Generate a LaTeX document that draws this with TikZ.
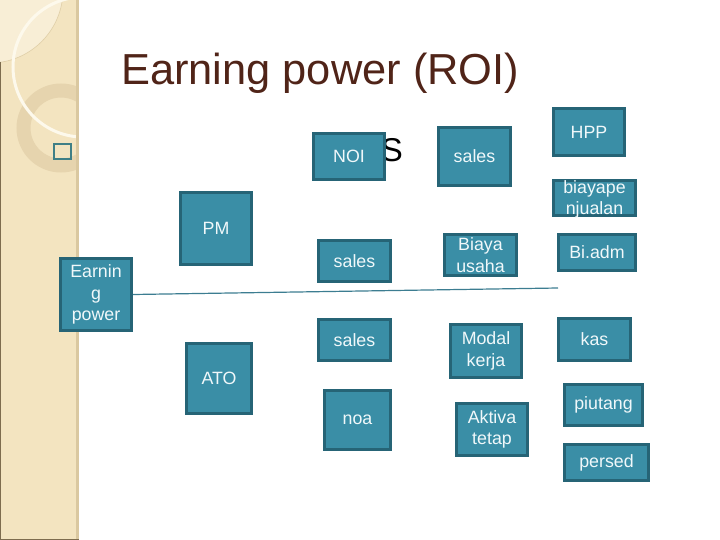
\documentclass[tikz,border=0pt]{standalone}
\usepackage{fontspec}
\setmainfont{Liberation Sans}
\definecolor{boxfill}{RGB}{58,142,166}
\definecolor{boxline}{RGB}{38,100,118}
\definecolor{boxtext}{RGB}{240,248,250}
\definecolor{titlecol}{RGB}{80,36,24}
\definecolor{side}{RGB}{243,228,192}
\definecolor{sideband}{RGB}{218,200,160}
\definecolor{sideedge}{RGB}{125,108,78}
\definecolor{sidelight}{RGB}{248,238,214}
\definecolor{ringcol}{RGB}{230,212,174}
\definecolor{arcwhite}{RGB}{253,249,236}
\definecolor{bulletcol}{RGB}{63,127,134}
\definecolor{linecol}{RGB}{60,125,145}
\tikzset{
  box/.style={draw=boxline, fill=boxfill, line width=3pt, text=boxtext,
    font=\fontsize{17.8}{21.5}\selectfont, align=center, inner sep=0pt},
}
\begin{document}
\begin{tikzpicture}[x=1pt,y=-1pt]
\useasboundingbox (0,0) rectangle (720,540);
% sidebar
\fill[side] (0,0) rectangle (79,540);
\begin{scope}
  \clip (0,0) rectangle (76,538);
  \fill[sidelight] (-10,-10) circle (73);
  \draw[sideband!80!side, line width=0.6pt] (-10,-10) circle (73);
  \draw[ringcol, line width=14pt] (61,128) circle (37.5);
  \draw[arcwhite, line width=3pt] (83,67) circle (70);
\end{scope}
\fill[sideband] (76,0) rectangle (79,540);
\draw[sideedge, line width=1.2pt] (0.6,62) -- (0.6,539.4) -- (79,539.4);
% bullet glyph
\draw[bulletcol, line width=2pt] (54,144) rectangle (71,159);
% title
\node[anchor=base west, inner sep=0pt, text=titlecol, font=\fontsize{43.4}{50}\selectfont] (title) at (121,85) {Earning power (ROI)};
% partly hidden S
\node[anchor=base east, inner sep=0pt, font=\fontsize{33}{38}\selectfont] (s) at (403,161.5) {S};
% boxes
\node[box, minimum width=71pt, minimum height=46pt] (noi) at (349,156.5) {NOI};
\node[box, minimum width=72pt, minimum height=58pt] (salesa) at (474.5,156.5) {sales};
\node[box, minimum width=71pt, minimum height=47pt] (hpp) at (589,132) {HPP};
\node[box, minimum width=82pt, minimum height=35pt] (bpen) at (594.5,198) {\raisebox{-6pt}[0pt][0pt]{\begin{tabular}{@{}c@{}}biayape\\njualan\end{tabular}}};
\node[box, minimum width=77pt, minimum height=36pt] (biadm) at (597,252.5) {Bi.adm};
\node[box, minimum width=72pt, minimum height=41pt] (busaha) at (480.5,255) {Biaya\\usaha};
\node[box, minimum width=72pt, minimum height=41pt] (salesb) at (354.5,261) {sales};
\node[box, minimum width=71pt, minimum height=72pt] (pm) at (216,228.5) {PM};
\node[box, minimum width=71pt, minimum height=72pt] (ep) at (96,294.5) {Earnin\\g\\power};
\node[box, minimum width=65pt, minimum height=70pt] (ato) at (219,378.5) {ATO};
\node[box, minimum width=72pt, minimum height=41pt] (salesc) at (354.5,340) {sales};
\node[box, minimum width=71pt, minimum height=53pt] (modal) at (486,351) {Modal\\kerja};
\node[box, minimum width=66pt, minimum height=59pt] (noa) at (357.5,420) {noa};
\node[box, minimum width=71pt, minimum height=52pt] (aktiva) at (492,429.5) {Aktiva\\tetap};
\node[box, minimum width=72pt, minimum height=42pt] (kas) at (594.5,339.5) {kas};
\node[box, minimum width=78pt, minimum height=41pt] (piutang) at (603.5,405) {piutang};
\node[box, minimum width=84pt, minimum height=36pt] (persed) at (606.5,462.5) {persed};
% divider line
\coordinate (lend) at (558,288);
\draw[linecol, line width=1.2pt] (ep.east) -- (lend);
\end{tikzpicture}
\end{document}
